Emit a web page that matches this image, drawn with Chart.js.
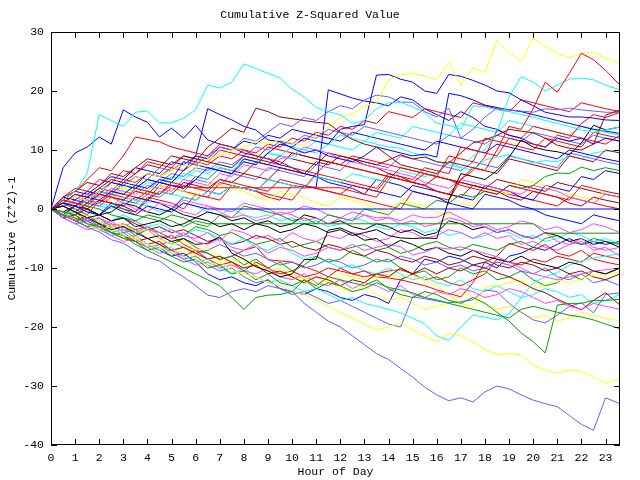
<!DOCTYPE html>
<html>
<head>
<meta charset="utf-8">
<title>Cumulative Z-Squared Value</title>
<script src="https://cdn.jsdelivr.net/npm/chart.js@4.4.1/dist/chart.umd.min.js"></script>
<style>
  html, body { margin: 0; padding: 0; background: #fff; }
  canvas { display: block; }
</style>
</head>
<body>
<canvas id="chart" width="640" height="480"></canvas>
<script>
/* ── Data: one value every half hour, last sample at 23.6 h ───── */
const hours = [0, 0.5, 1, 1.5, 2, 2.5, 3, 3.5, 4, 4.5, 5, 5.5,
  6, 6.5, 7, 7.5, 8, 8.5, 9, 9.5, 10, 10.5, 11, 11.5,
  12, 12.5, 13, 13.5, 14, 14.5, 15, 15.5, 16, 16.5, 17, 17.5,
  18, 18.5, 19, 19.5, 20, 20.5, 21, 21.5, 22, 22.5, 23, 23.6];

const yTicks = [-40, -30, -20, -10, 0, 10, 20, 30];

const redRuns = [
  [0, 1.5, 1, 0.5, 2.5, 2, 1.5, 3.5, 3, 2.5, 4.5, 4,
   3.5, 3, 5, 4.5, 4, 3.5, 3, 5, 4.5, 4, 3.5, 3,
   2.5, 4, 3.5, 3, 5.5, 5, 4.5, 4, 3, 2.5, 5, 7,
   6.5, 10, 14, 13.5, 17, 21.5, 19.8, 23, 26.4, 25.3, 23.5, 21],
  [0, 2, 3, 5, 7, 6.5, 9, 12.2, 11.8, 11.4, 10.5, 10,
   9.5, 9, 11, 10.5, 10, 9, 8.5, 8, 7, 6.5, 6, 8,
   7.5, 7, 6.5, 6, 5.5, 5, 4.5, 6, 5.5, 5, 4, 3.5,
   3, 2.5, 4, 3.5, 3, 2.5, 2, 1.5, 4, 3.5, 3, 2.5],
  [0, -1, 0.5, 1.5, 1, 2.5, 2, 1.5, 3, 2.5, 4, 3.8,
   3.6, 3.6, 3.6, 3.6, 3.6, 3.6, 3.6, 3.6, 3.6, 3.6, 3.6, 3.6,
   3.6, 3, 2.5, 2, 5, 7, 6.5, 6, 5.5, 9, 8.5, 8,
   12, 11.5, 11, 10.5, 10, 12, 11.5, 11, 10.5, 13, 12.5, 12],
  [0, -1, -2, -1.5, -3, -4, -3.5, -5, -6, -5.5, -7, -8,
   -7, -8.5, -9.5, -9, -10.5, -9, -10, -11, -10.5, -11.5, -11, -10,
   -10.5, -11, -10.5, -11.5, -11.7, -12, -12.5, -13, -13.7, -14.3, -14.9, -12.5,
   -9, -8, -5.8, -6.5, -7, -6, -7.5, -8, -7, -8.5, -9, -9.5],
  [0, 1, 0, -1, 1.5, 1, 0, -0.5, 2, 1.5, 1, 0,
   2.5, 2, 1.5, 4, 3.5, 3, 2, 1.5, 4, 3.5, 6, 5.5,
   5, 4.5, 4, 3.5, 6, 5.5, 5, 7, 6.5, 6, 10.5, 10,
   9.5, 9, 12, 11.5, 11, 10.5, 12.5, 12, 14.5, 16, 15.5, 16.4],
  [0, -1, -0.5, -2, -1.5, -3, -2.5, -4, -3.5, -5, -4.5, -6,
   -7, -7.5, -8.6, -8, -7, -6.4, -8.6, -8.8, -9, -9.8, -10.5, -11.5,
   -10, -11, -11.5, -11, -10.5, -10.3, -11, -12, -11.5, -12.5, -13, -12,
   -11, -8.5, -9, -9.5, -8.5, -9, -8, -8.5, -9, -7.5, -8, -8.5],
  [0, 1, 2, 1.5, 1, 3, 2.5, 2, 1.5, 4, 3.5, 3,
   2.5, 2, 4.5, 4, 3.5, 3, 2.5, 2, 1.5, 4, 3.5, 3,
   2.5, 2, 1.5, 1, 0.5, 0, 3, 2.5, 2, 1.5, 5, 6.5,
   8.8, 13.4, 12.5, 12, 14, 13.5, 13, 12.5, 12, 11.5, 11, 12.5],
  [0, 2, 3.5, 3, 5, 4.5, 6.5, 6, 8, 7.5, 7, 9,
   8.5, 8, 10, 9.5, 9, 8.5, 10.5, 10, 9.5, 9, 8.5, 8,
   7.5, 9, 8.5, 8, 7.5, 7, 6.5, 6, 5.5, 5, 4.5, 4,
   3.5, 3, 2.5, 2, 1.5, 1, 0.5, 2, 1.5, 1, 0.5, 0],
  [0, 1, 2.5, 2, 3.5, 3, 5, 4.5, 6, 5.5, 7, 6.5,
   8, 7.5, 9, 8.5, 10, 9.5, 11, 10.5, 12, 11.5, 13, 12.5,
   14, 13.5, 15, 14.5, 16.5, 16, 15.5, 17, 16.5, 16, 15.5, 18,
   17.5, 17, 16.5, 18.5, 18, 17.5, 17, 16.5, 18, 17.5, 17, 16.5],
];

const greenRuns = [
  [0, -1, -1.5, -2.5, -3, -4, -5, -5.5, -7, -8, -9, -10,
   -11, -12, -13, -15, -17, -15, -14.6, -14.5, -14, -12, -13, -11.5,
   -12, -12.5, -13, -12, -13.5, -14.5, -15, -14, -14.5, -15.5, -16, -15,
   -16, -17.5, -19, -21, -22.5, -24.4, -16.3, -16, -16, -15.5, -15.5, -15.3],
  [0, -0.5, -1, 0.5, 0, -1, -1.5, -2, -1, -1.5, -2, -3,
   -2, -2.5, -2.5, -2.5, -2.5, -2.5, -2.5, -2.5, -2.5, -2.5, -2.5, -2.5,
   -2.5, -2.5, -2.5, -2.5, -2.5, -2.5, -2.5, -2.5, -2.5, -2.5, -2.5, -2.5,
   -2.5, -2.5, -2.5, -2.5, -2.5, -4.1, -4.1, -4.1, -4.1, -4.1, -4.1, -4.1],
  [0, -1, -2, -3, -2.5, -4, -4.5, -6, -7, -6.5, -8, -9,
   -8.5, -10, -9.5, -11, -10.5, -12, -11, -12.5, -13, -12, -13.5, -12.5,
   -13, -14, -13.5, -12.5, -13.3, -13.7, -14.2, -15, -15.4, -16, -16.5, -17,
   -17.5, -18, -18.5, -17, -16.5, -17, -17.5, -18, -18.3, -18.8, -19.5, -20.3],
  [0, 1, 0.5, -0.5, -1, 0.5, 0, -1, -1.5, -2, -1, -1.5,
   -2.5, -3, -1, -1.5, 0.5, 0, -0.5, -1, -2, -1.5, -2.5, -1,
   -1.5, -2, 0, -0.5, -1, 1, 0.5, 0, 1.5, 1, 2.5, 2,
   3, 2.5, 4, 3.5, 4, 5.5, 6.1, 6, 7.1, 6.5, 7, 6.5],
  [0, -1, -2, -1, -2.5, -3.5, -3, -4.5, -3.5, -5, -6, -5,
   -6.5, -7.5, -8.5, -8, -9.5, -8.5, -10, -9, -10.5, -9.5, -8, -9,
   -8.5, -7, -8, -9, -8.5, -10, -11, -10.5, -12, -11.5, -10, -11,
   -10.5, -12, -11.5, -10.5, -12, -13, -12.5, -11, -12, -10.5, -11, -10],
  [0, -0.5, -1.5, -1, -2, -3, -2.5, -3.5, -3, -4, -5, -4.5,
   -3, -3.5, -4.5, -4, -5, -6, -5.5, -5, -6.5, -6, -5.5, -6.5,
   -7, -6.5, -6, -7, -6.5, -7.5, -7, -6, -5.5, -6.5, -7, -6,
   -6.5, -7, -6, -5.5, -6.5, -5, -4.5, -5.5, -6, -5, -5.5, -6],
];

const blueRuns = [
  [0, 1, 0.5, -0.5, -1, 0.5, -0.5, -1, 0.5, 0, -0.5, 1,
   0.5, 0, 0, 0, 0, 0, 0, 0, 0, 0, 0, 0,
   0, 0, 0, 0, 0, 0, 0, 0, 0, 0, 0, 0,
   0, 0, 0, 0, 0, 0, 0, 0, 0, 0, 0, 0],
  [0, 2, 1.5, 3, 2.5, 4.5, 4, 3.5, 5, 4.5, 4, 3.5,
   5, 7, 6.5, 6, 8, 7.5, 9.5, 11, 10.5, 12, 11.5, 11,
   13.5, 14, 14.3, 22.7, 22.8, 22, 21.5, 20, 19.6, 22.8, 22.5, 21.8,
   21, 20, 19.7, 18.5, 17.5, 16.4, 16, 15.6, 15.6, 15.4, 15.1, 15],
  [0, 7, 9.5, 10.5, 12.2, 11, 16.8, 15.6, 14.7, 12.2, 13.7, 12,
   14.2, 11.7, 11, 10.5, 9.5, 9, 8.5, 7.5, 7, 6, 5.5, 4.5,
   4, 3.5, 2.5, 5, 4.5, 4, 3, 2.5, 2, 1, 0.5, 0,
   2.5, 2, 1.5, 0.5, 0, -1, -1.5, -2, -2.5, -1, -1.5, -2],
  [0, 1, 0.5, 2, 1.5, 3, 2.5, 4, 3.5, 5, 4.5, 6.5,
   9, 17, 16, 15.1, 14, 13.4, 11.7, 11.4, 10.3, 9.5, 10, 9,
   8.5, 8, 9, 10.5, 10, 9.5, 9, 9.3, 8.8, 19.6, 19.2, 18.5,
   17.6, 17.2, 16.8, 16.5, 16, 15.5, 15, 14.5, 14, 13.5, 13.2, 12.8],
  [0, -1, 0.5, 0, -1, 1, 0.5, -0.5, 1.5, 1, 0, 2,
   1.5, 3, 2.5, 4, 3.5, 3, 5, 4.5, 4, 3.7, 3.7, 20.2,
   19.5, 18.8, 18.3, 18, 17.5, 19, 18.5, 17, 16, 15, 16.5, 15.5,
   14, 13.5, 12.5, 12, 11, 10.5, 12, 11.5, 12, 11, 12, 11.5],
  [0, 2, 1.5, 1, 3, 2.5, 4.5, 4, 6, 5.5, 5, 8,
   7.5, 7, 6.5, 6, 8.5, 8, 7.5, 7, 6.5, 6, 5.5, 5,
   4.5, 4, 3.5, 3, 2.5, 2, 4, 3.5, 3, 2.5, 2, 1.5,
   4, 3.5, 3, 2, 1.5, 4, 3.5, 3, 5.5, 5, 6.5, 6],
  [0, -1, -2, -3, -2.5, -4, -5, -4.5, -6, -7, -8, -7.5,
   -9, -11, -12, -11.5, -12.5, -13, -12, -13.5, -14, -14.5, -13.5, -14,
   -15, -15.5, -14.5, -15, -16, -12, -11, -8.5, -9, -8, -8.5, -9.5,
   -9, -10, -8, -7.5, -6.5, -7, -6, -5, -6, -5.5, -6, -5.5],
  [0, 1.5, 3, 2.5, 4, 5.5, 5, 7, 6.5, 6, 8, 7.5,
   9, 8.5, 10.5, 10, 11.5, 11, 12.5, 12, 13.5, 13, 12.5, 12,
   11.5, 13, 12.5, 12, 11.5, 11, 10.5, 10, 11.5, 11, 10.5, 10,
   9.5, 11, 10.5, 10, 9.5, 9, 8.5, 10, 9.5, 9, 8.5, 8],
];

const magentaRuns = [
  [0, -1, -2, -1.5, -3, -2, -3.5, -4, -3, -4.5, -5, -4,
   -5.5, -6, -5, -6.5, -7, -6, -7.5, -6.5, -7, -8, -7.5, -6.5,
   -7, -6, -7, -6.5, -6, -6.4, -7.8, -7.3, -6.5, -6.8, -6.4, -7,
   -7.5, -8.1, -9, -10, -11, -11.5, -12, -11.5, -11, -10.5, -10.3, -10],
  [0, 1, 2, 1.5, 0.5, 2, 1, 0, -0.5, 1, 0.5, -0.5,
   -1, 0.5, -0.5, -1.5, -1, -2, -1.5, -0.5, -1, -2, -1.5, -2.5,
   -1.5, -2, -1, -1.5, -1.4, -2, -1, -1.5, -1.4, -0.5, -1.5, -2.5,
   -3, -4, -3.5, -4.5, -5, -4, -5.5, -6, -5, -6.5, -7, -6.5],
  [0, -1.5, -2.5, -3.5, -3, -4.5, -5.5, -5, -6.5, -7.5, -7, -8.5,
   -9.5, -9, -10, -9.5, -10.5, -11, -10, -11.5, -12, -11, -12.5, -13,
   -12, -13.5, -12.5, -13, -14, -13, -14.5, -15, -14, -14.5, -13.5, -14,
   -15, -14.5, -13.5, -14, -15, -16, -15.5, -16.5, -17, -16, -16.5, -17],
  [0, 1.5, 1, 2.5, 2, 3.5, 3, 2.5, 4, 3.5, 3, 5,
   4.5, 4, 6, 5.5, 7.5, 7, 6.5, 8.5, 9, 10.5, 10, 9.5,
   8.5, 8, 7.5, 7, 6.6, 6, 5.5, 4.5, 4, 3.5, 5, 4.5,
   4, 3.5, 3, 2.5, 4, 3.5, 3, 2, 1.5, 1, 2.5, 2],
  [0, -0.5, -1.5, -2, -1.5, -2.5, -3, -2, -3.5, -4, -3.5, -4.5,
   -5, -4, -5.5, -3.5, -4, -5, -4.5, -5.5, -4, -5, -5.5, -4.5,
   -5, -4, -4.5, -5.5, -5, -3.5, -4, -5, -4.5, -3.5, -4, -5,
   -4, -5, -4.5, -6, -5.5, -6.5, -7, -6, -5.5, -7, -6.5, -8],
  [0, 0.5, 1, 0, 1.5, 1, 0.5, 2, 1.5, 1, 0, 1.5,
   1, 0.5, 0, -0.5, 1, 0.5, 0, -1, -0.5, 0.5, 0, -1,
   -1.5, -0.5, -1, -2, -1.5, -2.5, -2, -3, -2.5, -1.5, -2, -3,
   -2.5, -3.5, -3, -2, -2.5, -3.5, -3, -4, -3.5, -2.5, -3, -4],
];

const cyanRuns = [
  [0, 1.5, 3, 6, 16, 15, 14, 16.4, 16.6, 14.6, 14.6, 15.4,
   16.8, 21, 20.5, 21.5, 24.6, 23.8, 23, 22.2, 20.3, 19, 17.2, 16.5,
   16, 14.5, 15, 17, 18, 18.1, 17.3, 16.3, 14.5, 14.2, 13.5, 17.5,
   17.3, 16.8, 16.5, 16, 15.6, 15, 14.5, 14, 13.4, 13, 13.4, 13.9],
  [0, -1, 0, 1.5, 1, 0.5, 2, 1.5, 1, 3, 2.5, 2,
   1.5, 3, 2.5, 4, 3.5, 3, 5, 4.5, 4, 3.5, 5.5, 5,
   4.5, 6, 5.5, 5, 4.5, 6.5, 6, 5.5, 6, 8, 7, 9,
   10, 13, 19, 22.4, 21.5, 20, 21, 22, 22.2, 21.9, 21, 20.2],
  [0, -1, -2, -1.5, -3, -4, -3.5, -5, -6, -7, -6.5, -8,
   -9, -8.5, -10, -11, -10, -11.5, -12.5, -12, -13, -14, -13.5, -14.5,
   -15.5, -15, -16, -16.5, -17, -17.6, -18.5, -19.5, -21.5, -22.3, -20, -18,
   -18.3, -18.8, -17.8, -15, -12.5, -11.5, -10.8, -9.5, -8.8, -8.3, -8, -7.5],
  [0, 1, 2, 1.5, 3, 2.5, 4, 3.5, 3, 5, 4.5, 6,
   5.5, 5, 7, 6.5, 8, 7.5, 9.5, 9, 8.5, 10, 9.5, 11,
   10.5, 10, 11.5, 11, 10.5, 10.3, 9.5, 9, 8, 7.5, 7, 6.6,
   8.3, 8.8, 9.2, 8.5, 7.8, 8.2, 8, 9, 8.5, 9.5, 9.8, 10],
  [0, -1, -0.5, -1.5, -2.5, -2, -1, -2, -3, -2.5, -3.5, -4.5,
   -3.5, -4, -5, -6, -5, -6.5, -7, -6, -7.5, -8.5, -8, -9,
   -10, -9.5, -10.5, -11, -10, -11, -12, -11.5, -12.5, -13, -12, -13.5,
   -14, -13, -14, -15, -14.5, -13.5, -14, -15, -14.5, -16, -15.5, -14.5],
  [0, 0.5, -0.5, 1, 0.5, 0, 1.5, 1, 0.5, -0.5, 0, 1,
   0.5, -0.5, -1, 0, -1, -1.5, -1, -2, -1.5, -2.5, -2, -3,
   -2.5, -1.5, -2, -3, -3.5, -2.5, -3, -4, -3.5, -4.5, -4, -5,
   -4.5, -3.5, -4, -5, -4.5, -5.5, -5, -4, -4.5, -5.5, -5, -6],
  [0, 0.5, 1.5, 1, 2.5, 2, 3.5, 3, 4.5, 4, 5.5, 5,
   6.5, 6, 7.5, 7, 8.5, 8, 9.5, 9, 10.5, 10, 11.5, 11,
   12.5, 12, 11.5, 13, 12.5, 12, 14, 13.5, 13, 12.5, 14.5, 14,
   13.5, 13, 15, 14.5, 14, 13.5, 13, 12.5, 14, 13.5, 13, 12.5],
];

const darkRedRuns = [
  [0, 1, 2.5, 2, 3.5, 5, 4.5, 6, 7.5, 7, 9, 8.5,
   8, 10.5, 12, 13.7, 13, 17.1, 16.5, 15.6, 15.3, 15, 14.7, 14.5,
   13, 11.8, 11, 10.5, 9, 7.5, 7, 6.5, 6, 8, 7.5, 7,
   6.5, 6, 8.5, 8, 7.5, 7, 6.5, 9, 8.5, 8, 10, 9.5],
  [0, -1, 0.5, 0, 1.5, 1, 0.5, 2, 1.5, 3, 2.5, 4.5,
   4, 3.5, 5, 4.5, 6, 5.5, 5, 7, 6.5, 6, 8, 7.5,
   9, 8.5, 8, 7.5, 8.3, 9.2, 8.5, 8.8, 8, 7.8, 9.5, 11.2,
   11.7, 12.5, 13.5, 13.2, 12.9, 12, 10.8, 10.3, 10, 11, 15.9, 16.8],
  [0, -1.5, -1, -2.5, -3.5, -3, -4.5, -5.5, -5, -6, -7, -6.5,
   -7.5, -8.5, -8, -9, -10, -9.5, -11, -10.5, -11.5, -12.5, -11.5, -12,
   -13, -12, -12.5, -11, -11.5, -10, -11, -10, -11, -10, -10.5, -9.5,
   -10, -10.8, -11.5, -12.4, -13.5, -14.2, -15.3, -16.2, -17.1, -15.5, -14.2, -16.3],
  [0, 0.5, -0.5, 1, 2.5, 2, 1.5, 3, 2.5, 4.5, 4, 3.5,
   5.5, 5, 7, 6.5, 6, 8, 7.5, 9, 8.5, 8, 7.5, 9.5,
   9, 8.5, 7.5, 7, 6, 5.5, 4.5, 4, 3, 2.5, 2, 4,
   3.5, 3, 2, 1.5, 3, 2.5, 2, 1, 0.5, 2, 1.5, 1],
  [0, -0.5, -1, 0, -1, -2, -1.5, -2.5, -3.5, -3, -4, -3.5,
   -4.5, -5.5, -5, -6, -5.5, -4.5, -5, -6, -5.5, -6.5, -7, -6,
   -6.5, -7.5, -8, -7, -7.5, -8.5, -9, -8, -8.5, -9.5, -9, -8,
   -8.5, -9.5, -10, -9, -9.5, -10.5, -10, -11, -10.5, -11.5, -12, -11],
  [0, 1.5, 3, 4.5, 4, 6, 5.5, 7, 8.5, 8, 7.5, 9,
   8.5, 8, 7.5, 7, 9, 8.5, 8, 7.5, 9.5, 9, 8.5, 8,
   7.5, 7, 6.5, 6, 5.5, 5, 4.5, 4, 5.5, 5, 4.5, 4,
   3.5, 5, 4.5, 4, 3.5, 3, 4.5, 4, 3.5, 3, 2.5, 2],
];

const yellowRuns = [
  [0, 1, 2, 1.5, 3, 4, 3.5, 5, 6, 5.5, 6.5, 7.5,
   7, 8.5, 9, 10, 10.5, 11.4, 11, 11.7, 11.2, 10.8, 12.5, 13.9,
   15.6, 16, 17.5, 18, 21.9, 22.7, 23, 22.5, 21.9, 24.9, 21, 23.9,
   23.2, 28.6, 26.5, 25, 29, 27.5, 26.4, 25.6, 26.4, 26.6, 25.6, 24.7],
  [0, -1, -1.5, -2.5, -3.5, -3, -4.5, -5, -6, -6.5, -7.5, -7,
   -8.5, -9.5, -9, -10.5, -11, -11.5, -12.5, -13, -14, -14.5, -15.4, -16.5,
   -17.5, -18.5, -19.5, -20.5, -20, -19.3, -20.5, -21.5, -22.5, -21, -21.5, -22.5,
   -23.8, -24.7, -24.5, -24.7, -26.5, -27.3, -27.8, -27.3, -27.5, -28.5, -29.5, -28.8],
  [0, -0.5, -1.5, -1, -2, -3, -2.5, -4, -3.5, -5, -6, -5.5,
   -7, -6.5, -8, -9, -8.5, -9.5, -10.5, -10, -11, -12, -11.5, -12.5,
   -11, -11.5, -12, -11.5, -11, -11.5, -11.3, -12, -13, -14.5, -16, -16.6,
   -13.2, -13, -12.5, -12, -13.5, -12.8, -12, -12.5, -11.8, -11.2, -11, -10.7],
  [0, 1.5, 1, 0.5, 2, 1.5, 3.5, 3, 2.5, 4, 3.5, 3,
   2, 4.5, 4, 3.5, 3, 2, 1.5, 3, 2.5, 2, 1, 0.5,
   2, 1.5, 1, 0, -0.5, 1.5, 1, 0.5, -0.5, -1, 1, 0.5,
   3.5, 3, 2.5, 5, 4.5, 4, 3, 2.5, 2, 1.5, 3, 2.5],
  [0, -1, -2, -3, -2.5, -4, -5, -4.5, -6, -5.5, -7, -6.5,
   -8, -9, -8, -9.5, -10, -9, -10.5, -11, -12, -11.5, -13, -12,
   -13.5, -14, -13, -14.5, -15.5, -15, -16, -17, -16.5, -16, -14, -15,
   -16, -17, -16.5, -17.5, -18.5, -18, -19, -18.5, -17.5, -18, -18.5, -19],
];

const blackRuns = [
  [0, 0.5, -0.5, -1.5, -1, -2, -1.5, -3, -2.5, -2, -3, -2.5,
   -1.5, -2, -3, -2.5, -3.5, -2.5, -3, -4, -3.5, -2.5, -3, -4,
   -3.5, -4.5, -4, -3.5, -4.5, -4.9, -5, -4.9, -5, 1.5, 6, 5.5,
   5, 6.5, 8.8, 11.7, 10.5, 10, 9.7, 9.2, 11.2, 14.2, 13.4, 13.9],
  [0, -1, -2, -1.5, -2.5, -3.5, -3, -4, -5, -4.5, -5.5, -5,
   -6, -5.8, -4.7, -7.5, -8.5, -9.8, -10.5, -11.5, -11, -8.6, -8.5, -3.6,
   -3.2, -4.1, -5.3, -5, -6.4, -5.3, -6, -7, -6.5, -7.5, -8, -7,
   -8, -8.5, -9, -8, -9, -9.5, -10, -9, -9.5, -10.5, -11, -10],
  [0, -0.5, 0.5, 0, -1, -0.5, 1, 0.5, -0.5, -1, 0, -1,
   -1.5, -0.5, -1, -2, -1.5, -2.5, -2, -3, -2.5, -1, -1.5, -2.5,
   -2, -3, -3.5, -2.5, -3, -4, -3.5, -4.5, -4, -2, -2.5, -3.5,
   -3, -4, -3.5, -4.5, -5, -4, -4.5, -5.5, -5, -6, -5.5, -6.5],
];

const slateRuns = [
  [0, -1.2, -1.8, -3.1, -3.9, -5.2, -5.8, -7.1, -8.2, -8.8, -10.3, -11.5,
   -13, -14.6, -15, -14, -13.5, -14, -13, -13.5, -14, -16, -17.5, -19,
   -20, -21.5, -23, -24.5, -25.5, -27, -28.5, -30.2, -31.5, -32.5, -32, -32.7,
   -31, -30, -30.5, -31.5, -32.4, -33, -33.5, -35, -36.5, -37.5, -32, -33],
  [0, 1, 2, 1.5, 3, 4.5, 4, 5.5, 5, 7, 6.5, 8,
   7.5, 9, 10.5, 10, 12, 11.5, 13, 14.5, 14, 15.5, 15, 16.5,
   17.5, 17, 18.5, 19.3, 19, 18.1, 18.1, 16.5, 15.6, 17.1, 12, 13.5,
   15.6, 17.1, 16.8, 16.6, 16.4, 17, 16.8, 17.1, 16.8, 16.6, 16.4, 16.4],
  [0, -1.5, -2.5, -2, -3.5, -4.5, -4, -5.5, -6.5, -6, -7.5, -8.5,
   -8, -9.5, -10.5, -10, -11.5, -12.5, -12, -13.5, -14.5, -14, -15, -16,
   -15.5, -16.5, -17.5, -18.5, -19.5, -20, -14.9, -15.2, -15.6, -15.9, -15.7, -15.4,
   -13.7, -14, -16, -17.5, -18.8, -19.3, -18, -16.5, -15.9, -17.6, -14.5, -14.2],
  [0, 0.5, 1.5, 1, 0.5, 2, 1.5, 1, 2.5, 2, 3.5, 3,
   5, 4.5, 4, 6, 5.5, 5, 7, 6.5, 6, 5.5, 7.5, 7,
   6.5, 8.5, 8, 7.5, 7, 9, 8.5, 8, 7.5, 7, 6.5, 8,
   7.5, 7, 9, 8.5, 8, 7.5, 7, 9.5, 9, 8.5, 8, 7.5],
  [0, -1, -0.5, -2, -3, -2.5, -4, -3.5, -5, -6, -5.5, -6.5,
   -7.5, -7, -6, -7, -8, -7.5, -8.5, -9.5, -9, -10, -9.5, -8.5,
   -9, -10, -9.5, -8.5, -9, -8, -8.5, -9.5, -9, -10, -9.5, -10.5,
   -10, -9, -9.5, -10.5, -11, -10, -11.5, -12, -11, -12.5, -12, -13],
  [0, 1, 0.5, 2, 3, 2.5, 4, 3.5, 5, 4.5, 6, 5.5,
   7, 6.5, 8, 7.5, 9, 10.5, 10, 11.5, 11, 12.5, 12, 13.5,
   13, 12.5, 14, 13.5, 13, 12.5, 12, 11.5, 11, 12.5, 12, 11.5,
   11, 12.5, 12, 11.5, 13, 12.5, 12, 11.5, 11, 12.5, 12, 11.5],
];

/* ── Colour groups (gnuplot-style palette) ────────────────────── */
const GROUPS = [
  { runs: redRuns,     color: '#ff0000' },
  { runs: greenRuns,   color: '#00a000' },
  { runs: blueRuns,    color: '#0000ff' },
  { runs: magentaRuns, color: '#ff40ff' },
  { runs: cyanRuns,    color: '#00ffff' },
  { runs: darkRedRuns, color: '#a00000' },
  { runs: yellowRuns,  color: '#ffff00' },
  { runs: blackRuns,   color: '#000000' },
  { runs: slateRuns,   color: '#6060ff' },
];

/* Interleave the groups so colours cycle like the original plot */
const datasets = [];
const maxRuns = Math.max(...GROUPS.map(g => g.runs.length));
for (let i = 0; i < maxRuns; i++) {
  GROUPS.forEach(g => {
    const run = g.runs[i];
    if (!run) return;
    datasets.push({
      data:        hours.map((h, k) => ({ x: h, y: run[k] })),
      borderColor: g.color,
      borderWidth: 1,
      pointRadius: 0,
      tension:     0,
      fill:        false,
    });
  });
}

/* ── Frame + inward tick marks on all four sides ──────────────── */
const frameTicks = {
  id: 'frameTicks',
  afterDraw(chart) {
    const { ctx, chartArea: a, scales: { x, y } } = chart;
    const len = 6;
    ctx.save();
    ctx.strokeStyle = '#000';
    ctx.lineWidth = 1;
    ctx.strokeRect(a.left + 0.5, a.top + 0.5, a.right - a.left - 1, a.bottom - a.top - 1);
    ctx.beginPath();
    x.ticks.forEach(t => {
      const px = Math.round(x.getPixelForValue(t.value)) + 0.5;
      ctx.moveTo(px, a.bottom); ctx.lineTo(px, a.bottom - len);
      ctx.moveTo(px, a.top);    ctx.lineTo(px, a.top + len);
    });
    y.ticks.forEach(t => {
      const py = Math.round(y.getPixelForValue(t.value)) + 0.5;
      ctx.moveTo(a.left, py);  ctx.lineTo(a.left + len, py);
      ctx.moveTo(a.right, py); ctx.lineTo(a.right - len, py);
    });
    ctx.stroke();
    ctx.restore();
  },
};

const FONT = { family: "'Liberation Mono', 'DejaVu Sans Mono', monospace", size: 11.5 };

new Chart(document.getElementById('chart').getContext('2d'), {
  type: 'line',
  data: { datasets },
  options: {
    responsive: false,
    animation: false,
    devicePixelRatio: 1,
    layout: { padding: { left: 0, right: 20, top: 0, bottom: 0 } },
    plugins: {
      legend:  { display: false },
      tooltip: { enabled: false },
      title: {
        display: true,
        text: 'Cumulative Z-Squared Value',
        color: '#000',
        font: { ...FONT, weight: 'normal' },
        padding: { top: 8, bottom: 10.2 },
      },
    },
    scales: {
      x: {
        type: 'linear',
        min: 0,
        max: 23.6,
        grid:   { display: false, drawTicks: false },
        border: { display: false },
        ticks: {
          stepSize: 1,
          includeBounds: false,
          autoSkip: false,
          maxRotation: 0,
          padding: 6,
          color: '#000',
          font: FONT,
        },
        title: {
          display: true,
          text: 'Hour of Day',
          color: '#000',
          font: FONT,
          padding: { top: 0, bottom: 1 },
        },
        afterFit: s => { s.height = 35; },
      },
      y: {
        min: yTicks[0],
        max: yTicks[yTicks.length - 1],
        grid:   { display: false, drawTicks: false },
        border: { display: false },
        afterBuildTicks: s => { s.ticks = yTicks.map(v => ({ value: v })); },
        ticks: {
          padding: 7,
          color: '#000',
          font: FONT,
        },
        title: {
          display: true,
          text: 'Cumulative (Z*Z)-1',
          color: '#000',
          font: FONT,
          padding: { top: 5, bottom: 0 },
        },
        afterFit: s => { s.width = 51; },
      },
    },
  },
  plugins: [frameTicks],
});
</script>
</body>
</html>
